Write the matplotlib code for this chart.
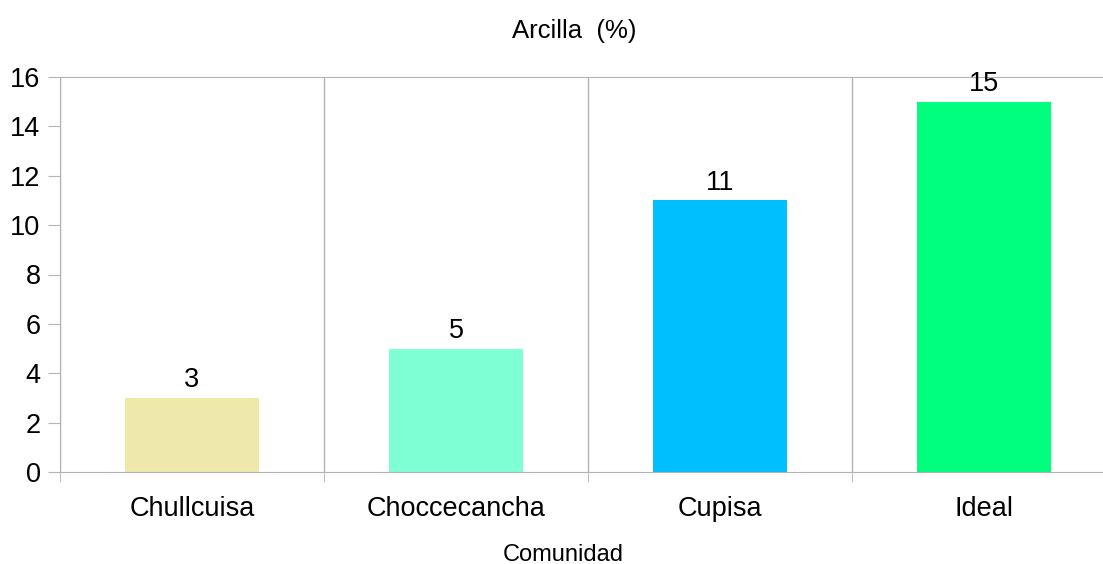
import numpy as np
import matplotlib.pyplot as plt

plt.rcParams['font.family'] = ['Liberation Sans', 'DejaVu Sans']

# datos
comunidades = ["Chullcuisa", "Choccecancha", "Cupisa", "Ideal"]
arcilla = [3, 5, 11, 15]
colores = ["#eee8aa", "#7fffd4", "#00bfff", "#00ff7f"]
yticks = [0, 2, 4, 6, 8, 10, 12, 14, 16]

W, H = 1103, 564
fig = plt.figure(figsize=(W / 100, H / 100), dpi=100)
# el área de trazado sigue más allá del borde derecho
ax = fig.add_axes([60 / W, (H - 472) / H, 1056 / W, 395 / H])

x = np.arange(len(comunidades)) + 0.5
barras = ax.bar(x, arcilla, width=0.505, color=colores, zorder=2)

for xi, v in zip(x, arcilla):
    ax.annotate(str(v), (xi, v), xytext=(0, 3.5), textcoords="offset points",
                ha="center", va="bottom", fontsize=19.5)

ax.set_xlim(0, len(comunidades))
ax.set_ylim(0, 16)
ax.set_yticks(yticks)
ax.set_xticks(x)
ax.set_xticklabels(comunidades)
ax.set_xticks(np.arange(len(comunidades) + 1), minor=True)

gris = "#b3b3b3"
ax.grid(False)
ax.xaxis.grid(True, which="minor", color=gris, linewidth=1)
for s in ["left", "bottom", "top"]:
    ax.spines[s].set_color(gris)
ax.spines["right"].set_visible(False)

ax.tick_params(axis="y", length=9, color=gris, labelsize=19.5, pad=5)
ax.tick_params(axis="x", which="major", length=0, labelsize=19.5, pad=17)
ax.tick_params(axis="x", which="minor", length=7.5, color=gris)

fig.text(574 / W, 1 - 31 / H, "Arcilla  (%)", ha="center", va="center", fontsize=18.5)
fig.text(563 / W, 1 - 555 / H, "Comunidad", ha="center", va="center", fontsize=17)

fig.savefig("out.png", dpi=100)
